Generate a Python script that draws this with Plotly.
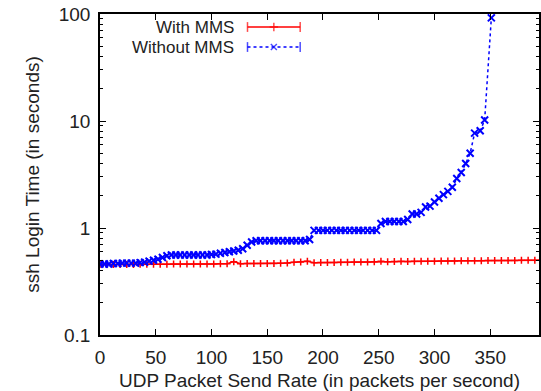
import plotly.graph_objects as go

# ---- data ----
with_x = [0, 6, 12, 18, 24, 30, 36, 42, 48, 54, 60, 66, 72, 78, 84, 90, 96, 102, 108, 114,
          120, 126, 132, 138, 144, 150, 156, 162, 168, 174, 180, 186, 192, 198, 204, 210,
          216, 222, 228, 234, 240, 246, 252, 258, 264, 270, 276, 282, 288, 294, 300, 306,
          312, 318, 324, 330, 336, 342, 348, 354, 360, 366, 372, 378, 384, 390, 396]
with_y = [0.455, 0.455, 0.456, 0.456, 0.457, 0.457, 0.458, 0.458, 0.458, 0.459, 0.459, 0.46,
          0.46, 0.46, 0.461, 0.461, 0.462, 0.462, 0.463, 0.463, 0.485, 0.464, 0.465, 0.465,
          0.466, 0.466, 0.467, 0.468, 0.47, 0.478, 0.482, 0.49, 0.474, 0.475, 0.476, 0.477,
          0.478, 0.479, 0.48, 0.481, 0.482, 0.484, 0.488, 0.485, 0.486, 0.49, 0.487, 0.488,
          0.489, 0.49, 0.49, 0.491, 0.492, 0.492, 0.493, 0.494, 0.494, 0.495, 0.496, 0.497,
          0.497, 0.498, 0.498, 0.499, 0.5, 0.5, 0.5]

without_x = [0, 4, 8, 12, 16, 20, 24, 28, 32, 36, 40, 44, 48, 52, 56, 60, 64, 68, 72, 76,
             80, 84, 88, 92, 96, 100, 104, 108, 112, 116, 120, 124, 128, 132, 136, 140, 144,
             148, 152, 156, 160, 164, 168, 172, 176, 180, 184, 188, 192, 196, 200, 204, 208,
             212, 216, 220, 224, 228, 232, 236, 240, 244, 248, 252, 256, 260, 264, 268, 272,
             276, 280, 284, 288, 292, 296, 300, 304, 308, 312, 316, 320, 324, 328, 332, 336,
             341, 345, 351]
without_y = [0.46, 0.46, 0.46, 0.465, 0.465, 0.47, 0.47, 0.47, 0.47, 0.475, 0.48, 0.49, 0.5,
             0.51, 0.53, 0.55, 0.56, 0.56, 0.56, 0.56, 0.56, 0.56, 0.56, 0.56, 0.56, 0.565,
             0.57, 0.58, 0.59, 0.6, 0.61, 0.62, 0.64, 0.69, 0.74, 0.76, 0.76, 0.76, 0.76, 0.76,
             0.76, 0.76, 0.76, 0.76, 0.76, 0.76, 0.76, 0.78, 0.95, 0.95, 0.95, 0.95, 0.95,
             0.95, 0.95, 0.95, 0.95, 0.95, 0.95, 0.95, 0.95, 0.95, 0.95, 1.1, 1.15, 1.15, 1.15,
             1.15, 1.15, 1.2, 1.35, 1.35, 1.4, 1.57, 1.6, 1.75, 1.9, 2.05, 2.2, 2.4, 2.9, 3.3,
             4.0, 5.0, 7.7, 8.1, 10.2, 92.0]

legend_labels = ["With MMS", "Without MMS"]
x_ticks = [0, 50, 100, 150, 200, 250, 300, 350]
y_ticks = [0.1, 1, 10, 100]
y_tick_text = ["0.1", "1", "10", "100"]

RED = "#ff0000"
BLUE = "#0000ff"
FONT = "Liberation Sans, Arial, sans-serif"
TXT = "#222222"
FS = 19
KEY_FS = 17

fig = go.Figure()
fig.add_trace(go.Scatter(
    x=with_x, y=with_y, mode="lines+markers", name=legend_labels[0],
    line=dict(color=RED, width=1.5),
    marker=dict(symbol="cross-thin", size=5, line=dict(color=RED, width=1.5)),
    showlegend=False))
fig.add_trace(go.Scatter(
    x=without_x, y=without_y, mode="lines+markers", name=legend_labels[1],
    line=dict(color=BLUE, width=1.5, dash="dot"),
    marker=dict(symbol="x-thin", size=7, line=dict(color=BLUE, width=2)),
    showlegend=False))

# manual gnuplot-style key (text right-aligned, sample to the right)
key_y = [0.9595, 0.8972]
key_line_x = [0.336, 0.456]
for i, (lab, col, sym, dash) in enumerate(zip(legend_labels, [RED, BLUE],
                                              ["cross-thin", "x-thin"], ["solid", "dot"])):
    fig.add_trace(go.Scatter(
        x=[key_line_x[0], (key_line_x[0] + key_line_x[1]) / 2, key_line_x[1]],
        y=[key_y[i]] * 3, xaxis="x2", yaxis="y2", mode="lines+markers",
        line=dict(color=col, width=1.5, dash=dash),
        marker=dict(symbol=["line-ns", sym, "line-ns"], size=[7, 6, 7],
                    line=dict(color=col, width=1.5)),
        showlegend=False, hoverinfo="skip"))
    fig.add_annotation(x=0.308, y=key_y[i], xref="x2", yref="y2", text=lab,
                       showarrow=False, xanchor="right", yanchor="middle",
                       borderpad=0,
                       font=dict(family=FONT, size=KEY_FS, color=TXT))

fig.update_layout(
    width=541, height=391,
    margin=dict(l=100, r=0, t=14, b=56),
    paper_bgcolor="white", plot_bgcolor="white",
    font=dict(family=FONT, size=FS, color=TXT),
    xaxis=dict(range=[0, 393.75], tickvals=x_ticks, ticks="inside", ticklen=6,
               tickcolor="#000", showline=True, linecolor="#000", linewidth=1.5,
               mirror="ticks", showgrid=False, zeroline=False,
               ticklabelstandoff=4,
               title=dict(text="UDP Packet Send Rate (in packets per second)",
                          standoff=8, font=dict(size=FS))),
    yaxis=dict(type="log", range=[-1, 2], tickvals=y_ticks, ticktext=y_tick_text,
               ticks="inside", ticklen=6, tickcolor="#000", showline=True,
               linecolor="#000", linewidth=1.5, mirror="ticks", showgrid=False,
               zeroline=False, ticklabelstandoff=4,
               minor=dict(ticks="inside", ticklen=3, tickcolor="#000",
                          tickvals=[0.2, 0.3, 0.4, 0.5, 0.6, 0.7, 0.8, 0.9,
                                    2, 3, 4, 5, 6, 7, 8, 9,
                                    20, 30, 40, 50, 60, 70, 80, 90]),
               title=dict(text="ssh Login Time (in seconds)", standoff=14,
                          font=dict(size=FS))),
    xaxis2=dict(range=[0, 1], overlaying="x", visible=False, fixedrange=True),
    yaxis2=dict(range=[0, 1], overlaying="y", visible=False, fixedrange=True),
)

fig.write_html("out.html")
